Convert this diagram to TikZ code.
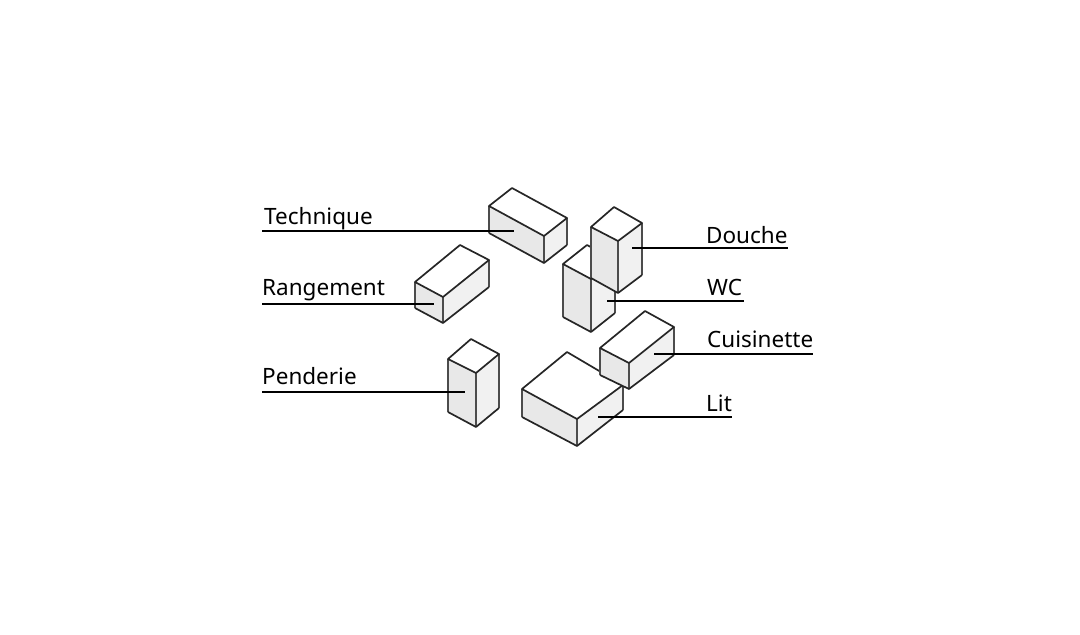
\documentclass[tikz,border=0pt]{standalone}
\usepackage{fontspec}
\setmainfont{Noto Sans}
\tikzset{
    edge/.style = {line width=1.7pt, line join=round, draw=black!85},
    post/.style = {line width=2.4pt, draw=black!70},
    leader/.style = {line width=2.5pt, draw=black},
    tag/.style = {inner sep=0pt, anchor=south west, font=\fontsize{22.5}{26}\selectfont}
}
\definecolor{sideL}{gray}{0.91}
\definecolor{sideR}{gray}{0.945}
% points: left, back, right, front, then lower left, lower front, lower right
\newcommand{\crate}[7]{
    \fill [white] #1 -- #2 -- #3 -- #4 -- cycle;
    \fill [sideL] #1 -- #4 -- #6 -- #5 -- cycle;
    \fill [sideR] #4 -- #3 -- #7 -- #6 -- cycle;
    \draw [post] #1 -- #5;
    \draw [post] #3 -- #7;
    \draw [post] #4 -- #6;
    \draw [edge] #1 -- #2 -- #3 -- #4 -- cycle;
    \draw [edge] #5 -- #6 -- #7;
}
\begin{document}
\begin{tikzpicture}[x=1pt, y=-1pt]
    \useasboundingbox (0,0) rectangle (1080,635);

    % boxes, back to front
    \crate{(489,206)}{(512,188)}{(567,218)}{(544,236)}{(489,233)}{(544,263)}{(567,245)}
    \crate{(415,282)}{(460,245)}{(489,260)}{(443,297)}{(415,308)}{(443,323)}{(489,287)}
    \crate{(563,264)}{(587,245)}{(615,260)}{(591,279)}{(563,317)}{(591,332)}{(615,313)}
    \crate{(591,227)}{(614,207)}{(642,223)}{(618,241)}{(591,278)}{(618,293)}{(642,275)}
    \crate{(448,359)}{(471,339)}{(499,354)}{(476,373)}{(448,412)}{(476,427)}{(499,408)}
    \crate{(522,389)}{(567,352)}{(623,385)}{(577,419)}{(522,417)}{(577,446)}{(623,410)}
    \crate{(600,348)}{(645,311)}{(674,327)}{(629,363)}{(600,375)}{(629,389)}{(674,355)}

    % labels
    \node [tag, text depth=6pt] (technique) at (264,231) {Technique};
    \node [tag, text depth=8pt] (rangement) at (262,304) {Rangement};
    \node [tag, text depth=7pt] (penderie) at (262,392) {Penderie};
    \node [tag, text depth=4pt] (douche) at (706,248) {Douche};
    \node [tag, text depth=5.5pt, text width=37pt] (wc) at (707,301) {WC};
    \node [tag, text depth=6pt] (cuisinette) at (707,354) {Cuisinette};
    \node [tag, text depth=5pt] (lit) at (706,417) {Lit};

    % where the leaders stop on the boxes
    \coordinate (techniqueEnd) at (514,231);
    \coordinate (rangementEnd) at (434,304);
    \coordinate (penderieEnd) at (465,392);
    \coordinate (doucheEnd) at (632,248);
    \coordinate (wcEnd) at (607,301);
    \coordinate (cuisinetteEnd) at (654,354);
    \coordinate (litEnd) at (598,417);

    \draw [leader] (technique.south west) ++(-2,0) -- (techniqueEnd);
    \draw [leader] (rangement.south west) -- (rangementEnd);
    \draw [leader] (penderie.south west) -- (penderieEnd);
    \draw [leader] (doucheEnd) -- (douche.south east);
    \draw [leader] (wcEnd) -- (wc.south east);
    \draw [leader] (cuisinetteEnd) -- (cuisinette.south east);
    \draw [leader] (litEnd) -- (lit.south east);
\end{tikzpicture}
\end{document}
